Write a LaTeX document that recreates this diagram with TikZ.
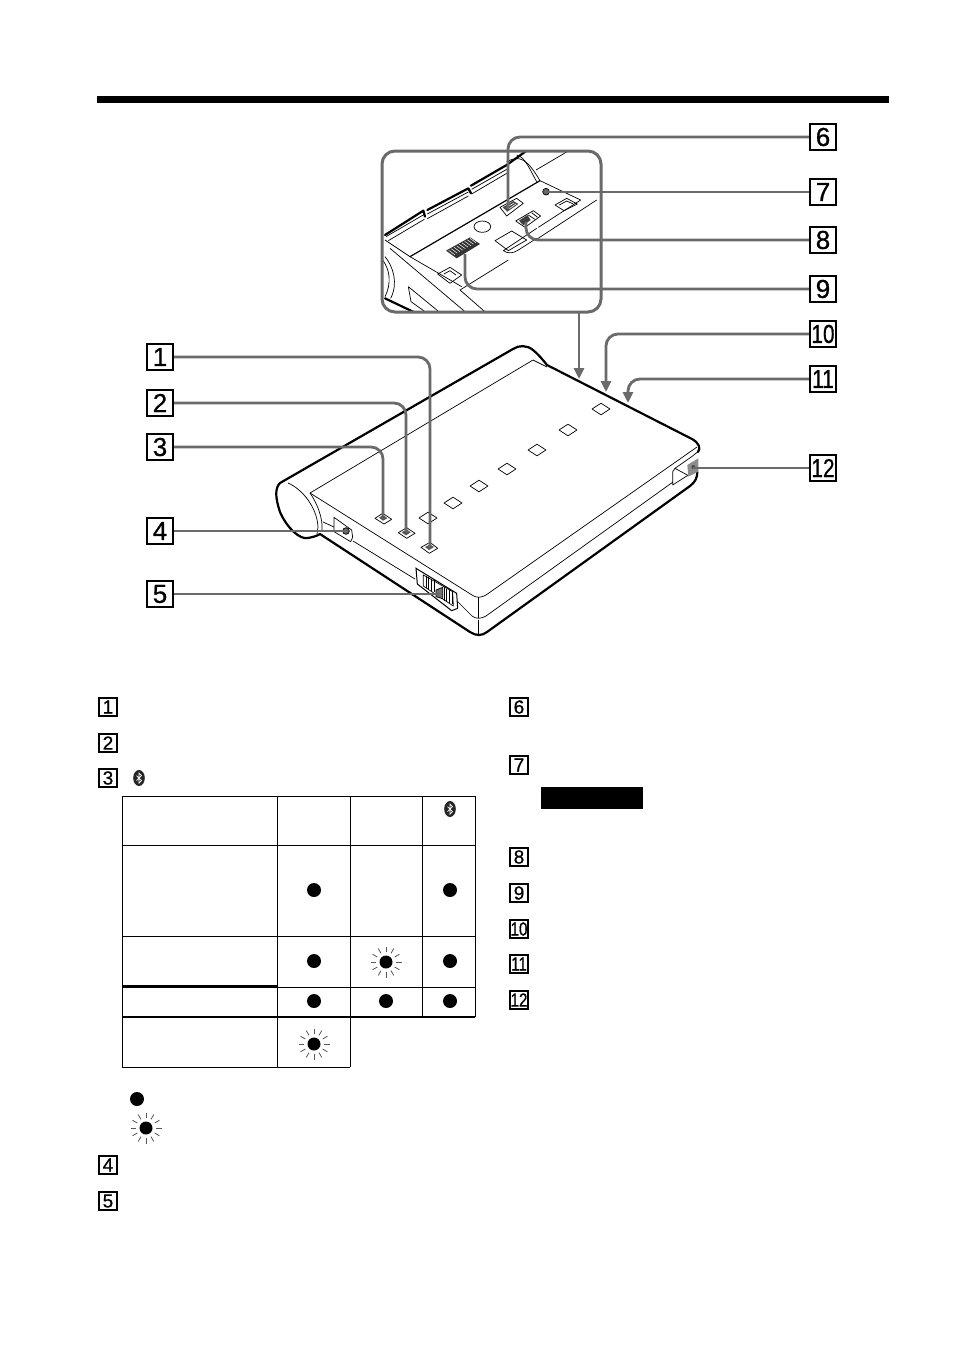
\documentclass[tikz,border=0pt]{standalone}
\usepackage{fontspec}
\setmainfont{Liberation Sans}
\newfontfamily\digitfont[FakeBold=0.8]{Liberation Sans}
\usetikzlibrary{arrows.meta}
\definecolor{conn}{HTML}{6A6A6A}
\tikzset{
  x=1pt,y=-1pt,
  bigbox/.style={draw,line width=1.8pt,minimum size=26.5pt,inner sep=0pt,fill=white,font=\digitfont\fontsize{26}{26}\selectfont},
  smallbox/.style={draw,line width=1.3pt,minimum size=18pt,inner sep=0pt,font=\digitfont\fontsize{19}{19}\selectfont},
  leader/.style={draw=conn,line width=2.8pt,rounded corners=12pt},
  arrowline/.style={leader,-{Triangle[length=11pt,width=10pt]}},
  bold/.style={line width=2.2pt,line join=round,line cap=round},
  med/.style={line width=1.2pt,line join=round},
  fine/.style={line width=.7pt,line join=round},
  tbl/.style={line width=1pt},
  pics/dot/.style={code={\fill (0,0) circle (7);}},
  pics/flash/.style={code={
    \fill (0,0) circle (6.5);
    \foreach \a in {0,30,...,330}{\draw[line width=.8pt,black!65] (\a:10) -- (\a:15.5);}
  }},
  pics/bt/.style={code={
    \fill[black!85] (0,0) ellipse (5.8 and 8);
    \draw[white,line width=.7pt] (-2.5,-2.5) -- (2.5,2.5) -- (0,5) -- (0,-5) -- (2.5,-2.5) -- (-2.5,2.5);
  }}
}
\newcommand{\cond}[1]{\scalebox{0.8}[1]{#1}}
\begin{document}
\begin{tikzpicture}
\useasboundingbox (0,0) rectangle (954,1352);
\fill[white] (0,0) rectangle (954,1352);
\fill (97,96) rectangle (889,103);

% ===== inset =====
\begin{scope}
\clip[rounded corners=13pt] (382,151) rectangle (601,312);
\begin{scope}[shift={(370,120)},scale=1/3]
 \draw[bold] (45,345) -- (160,272) -- (165,290);
 \draw[bold] (172,270) -- (295,205) -- (303,220);
 \draw[bold] (303,197) -- (410,135) -- (470,92);
 \draw[fine] (48,350) -- (163,283) (55,362) -- (163,298);
 \draw[fine] (172,282) -- (295,216) (172,296) -- (295,228);
 \draw[fine] (305,208) -- (410,148) (305,222) -- (410,160);
 \draw[fine] (410,125) .. controls (450,105) and (470,115) .. (510,182);
 \draw[fine] (440,105) .. controls (465,110) and (480,150) .. (500,185);
 \draw[fine] (498,150) -- (600,90);
 \draw[med] (510,182) -- (120,410);
 \draw[fine] (510,182) -- (632,240) -- (505,322);
 \draw[fine] (500,325) -- (400,392) .. controls (415,402) and (430,400) .. (445,390) -- (500,355);
 \draw[fine] (680,240) -- (500,358);
 \draw[fine] (415,420) -- (270,510) -- (348,578);
 \draw[fine] (45,360) -- (120,410) -- (275,500);
 \draw[fine] (60,385) -- (285,575);
 \draw[fine] (45,410) .. controls (70,440) and (85,490) .. (62,535);
 \draw[fine] (38,420) .. controls (60,450) and (65,490) .. (45,530);
 \draw[fine] (115,500) -- (123,545) -- (165,575) (115,500) -- (210,578);
 \draw[bold] (45,535) -- (135,578);
 \draw[fine] (203,462) -- (240,442) -- (275,465) -- (240,490) -- cycle;
 \draw[fine] (222,462) -- (240,452) -- (258,465);
 \draw[fine] (337,320) ellipse (25 and 17);
 \draw[fine] (375,362) -- (425,333) -- (470,360) -- (415,392) -- cycle;
 \draw[fine] (555,255) -- (590,235) -- (622,252) -- (582,272) -- cycle;
 \draw[fine] (568,255) -- (590,243) -- (610,252);
 % switch 6
 \draw[fine] (390,262) -- (440,235) -- (460,250) -- (410,288) -- cycle;
 \fill[black!70] (398,262) -- (430,243) -- (445,252) -- (412,275) -- cycle;
 \draw[white,line width=.5pt] (410,262) -- (432,249) (418,266) -- (438,252);
 % switch 8
 \draw[fine] (437,303) -- (490,272) -- (512,288) -- (465,322) -- cycle;
 \fill[black!75] (447,302) -- (472,285) -- (482,300) -- (460,316) -- cycle;
 \draw[fine] (475,285) -- (495,298) (485,278) -- (503,292);
 % connector 9
 \fill[black!80] (228,392) -- (300,352) -- (330,372) -- (260,415) -- cycle;
 \foreach \i in {0,...,8}{\draw[white,line width=.5pt] (236+\i*8,391-\i*4.5) -- (254+\i*8,404-\i*4.5);}
 % jack 7
 \draw[fine,fill=black!60] (528,215) circle (10);
\end{scope}
\end{scope}
\draw[conn,line width=3pt,rounded corners=13pt] (382,151) rectangle (601,312);

% ===== device (outline) =====
\draw[bold] (280,483) -- (513,349) .. controls (519,345) and (527,345) .. (533,350)
  .. controls (538,354) and (543,360) .. (547,365) -- (692,439)
  .. controls (699,443) and (701,448) .. (698,452);
\draw[bold] (280,483) .. controls (275,488) and (275,497) .. (280,512)
  .. controls (287,528) and (300,540) .. (308,538) .. controls (313,537) and (317,536) .. (320,534)
  -- (470,632) .. controls (476,636) and (482,636) .. (487,632) -- (690,486)
  .. controls (695,482) and (698,478) .. (697,470);
\draw[fine] (288,483) .. controls (302,489) and (317,507) .. (318,527) -- (317,534);
\draw[fine] (310,493) .. controls (317,503) and (323,518) .. (322,530);
\draw[fine] (310,493) -- (533,360) -- (547,367);
\draw[fine] (310,493) -- (472,595) .. controls (476,598) and (481,598) .. (486,595) -- (697,447);
\draw[fine] (323,522) -- (334,527);
\draw[fine] (353,541) -- (415,579);
\draw[fine] (457,601) -- (472,616) .. controls (476,619) and (481,619) .. (486,616) -- (673,482);
\draw[fine] (478,597) -- (478,618) (478,620) -- (478,635);

\begin{scope}[shift={(260,330)},scale=1/3]
 % jack 4 panel
 \draw[fine] (222,562) -- (275,600) -- (278,622) -- (272,635) -- (222,605) -- cycle;
 \draw[fine,fill=black!60] (258,603) circle (10);
 % slide switch 5
 \draw[line width=1pt] (468,715) -- (590,790) -- (593,835) -- (575,842) -- (472,762) -- cycle;
 \draw[fine,fill=white] (490,735) -- (578,785) -- (580,828) -- (490,768) -- cycle;
 \foreach \i in {0,...,3}{\draw[fine] (498+\i*8,738+\i*4) -- (498+\i*8,775+\i*4);}
 \foreach \i in {0,...,3}{\draw[fine] (552+\i*8,772+\i*4) -- (552+\i*8,812+\i*3);}
 \draw[fine,fill=black!55] (528,780) -- (548,772) -- (548,806) -- (528,800) -- cycle;
 % LED squares
 \draw[fine] (345,565) -- (368,550) -- (395,568) -- (372,582) -- cycle;
 \fill[black!65] (357,563) -- (370,555) -- (382,565) -- (369,572) -- cycle;
 \draw[fine] (415,608) -- (440,593) -- (465,610) -- (440,625) -- cycle;
 \fill[black!65] (425,607) -- (440,598) -- (452,607) -- (438,616) -- cycle;
 \draw[fine] (483,652) -- (510,637) -- (533,655) -- (508,670) -- cycle;
 \fill[black!65] (495,651) -- (510,643) -- (522,651) -- (507,660) -- cycle;
\end{scope}
% plain squares
\foreach \cx/\cy in {428/518,453/503,479/486,507/469,537/450,568/430,601/409}{
  \draw[fine] (\cx-9,\cy) -- (\cx,\cy-5.8) -- (\cx+9,\cy) -- (\cx,\cy+5.8) -- cycle;}
% right port
\begin{scope}[shift={(480,340)},scale=1/3]
 \draw[fine] (585,385) -- (578,395) -- (578,435) -- (625,405);
 \draw[fine] (585,385) -- (622,405);
 \draw[fine] (585,385) -- (635,350) -- (660,330);
 \fill[black!45] (622,375) -- (655,355) -- (655,395) -- (625,410) -- cycle;
 \fill[black!70] (640,381) circle (6);
\end{scope}

% ===== callouts =====
\node[bigbox] (c1) at (160,357) {1};
\node[bigbox] (c2) at (160,403) {2};
\node[bigbox] (c3) at (160,447) {3};
\node[bigbox] (c4) at (160,531) {4};
\node[bigbox] (c5) at (160,594) {5};
\node[bigbox] (c6) at (823,137) {6};
\node[bigbox] (c7) at (823,192) {7};
\node[bigbox] (c8) at (823,240) {8};
\node[bigbox] (c9) at (823,289) {9};
\node[bigbox] (c10) at (823,334) {\cond{10}};
\node[bigbox] (c11) at (823,379) {\cond{11}};
\node[bigbox] (c12) at (823,468) {\cond{12}};

\coordinate (p1) at (430,547);
\coordinate (p2) at (406,532);
\coordinate (p3) at (383,516);
\coordinate (p4) at (346,531);
\coordinate (p5) at (441,594);
\coordinate (p6) at (508,209);
\coordinate (p7) at (546,192);
\coordinate (p8) at (526,222);
\coordinate (p9) at (465,254);
\coordinate (p10) at (606,392);
\coordinate (p11) at (628,403);
\coordinate (p12) at (693,468);
\coordinate (inset) at (579,312);
\coordinate (p13) at (579,379);

\draw[leader] (c1.east) -| (p1);
\draw[leader] (c2.east) -| (p2);
\draw[leader] (c3.east) -| (p3);
\draw[leader] (c4.east) -- (p4);
\draw[leader] (c5.east) -- (p5);
\draw[leader] (c6.west) -| (p6);
\draw[leader] (c7.west) -- (p7);
\draw[leader] (c8.west) -| (p8);
\draw[leader] (c9.west) -| (p9);
\draw[arrowline] (inset) -- (p13);
\draw[arrowline] (c10.west) -| (p10);
\draw[arrowline] (c11.west) -| (p11);
\draw[leader,line width=2.4pt] (c12.west) -- (p12);

% ===== lists =====
\node[smallbox] (s1) at (108,707) {1};
\node[smallbox] (s2) at (108,743) {2};
\node[smallbox] (s3) at (108,778) {3};
\node[smallbox] (s4) at (108,1165) {4};
\node[smallbox] (s5) at (108,1201) {5};
\node[smallbox] (s6) at (519,707) {6};
\node[smallbox] (s7) at (519,765) {7};
\node[smallbox] (s8) at (519,857) {8};
\node[smallbox] (s9) at (519,893) {9};
\node[smallbox] (s10) at (519,929) {\cond{10}};
\node[smallbox] (s11) at (519,964) {\cond{11}};
\node[smallbox] (s12) at (519,1000) {\cond{12}};
\fill (541,787) rectangle (643,809);
\pic at (139,778) {bt};

% ===== table =====
\draw[tbl] (122,796) -- (475,796) -- (475,1017);
\draw[tbl] (122,796) -- (122,1067) -- (350,1067);
\draw[tbl] (277,796) -- (277,1067);
\draw[tbl] (350,796) -- (350,1067);
\draw[tbl] (422,796) -- (422,1017);
\draw[tbl] (122,845) -- (475,845);
\draw[tbl] (122,936) -- (475,936);
\draw[line width=2.2pt] (122,986.5) -- (277,986.5);
\draw[tbl] (277,987) -- (475,987);
\draw[line width=2.6pt] (122,1017) -- (277,1017);
\draw[line width=1.8pt] (277,1017) -- (475,1017);
\pic at (450,809) {bt};
\pic at (314,890) {dot};
\pic at (450,890) {dot};
\pic at (314,961) {dot};
\pic at (386,962) {flash};
\pic at (450,961) {dot};
\pic at (314,1001) {dot};
\pic at (386,1001) {dot};
\pic at (450,1001) {dot};
\pic at (314,1044) {flash};
\pic at (137,1099) {dot};
\pic at (146,1128) {flash};
\end{tikzpicture}
\end{document}
